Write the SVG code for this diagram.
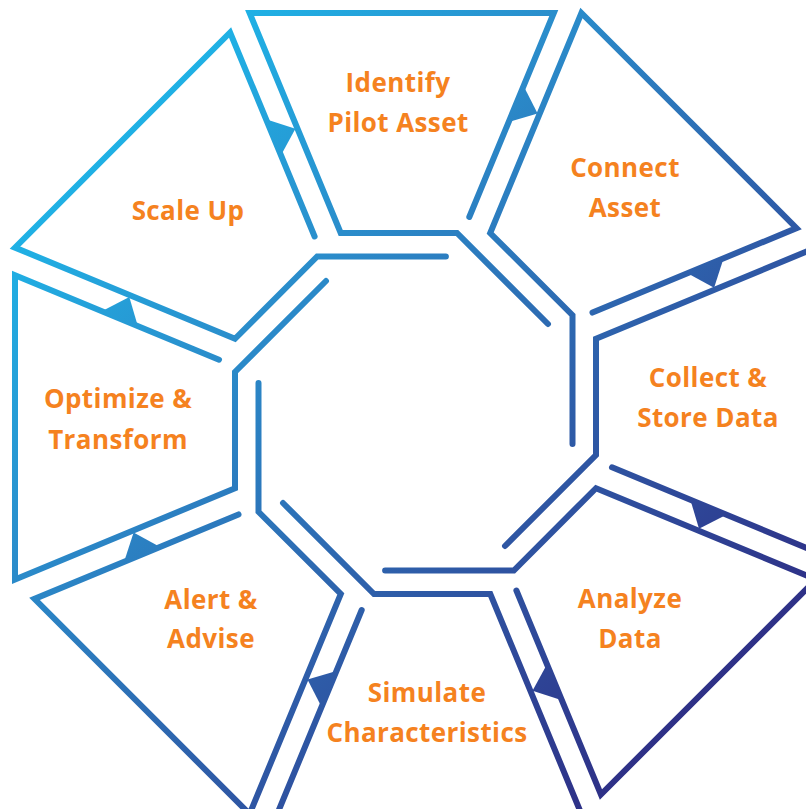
<svg xmlns="http://www.w3.org/2000/svg" width="806" height="809" viewBox="0 0 806 809">
  <defs>
    <!-- one diagonal blend shared by every outline and arrow tip -->
    <linearGradient id="ring" gradientUnits="userSpaceOnUse" x1="0" y1="0" x2="806" y2="809">
      <stop offset="0.12" stop-color="#1db8ea"/>
      <stop offset="0.35" stop-color="#2a8ecc"/>
      <stop offset="0.62" stop-color="#2e5ba7"/>
      <stop offset="0.88" stop-color="#2e2e85"/>
    </linearGradient>
  </defs>
  <style>
    .edge { fill: none; stroke: url(#ring); stroke-width: 6; stroke-linecap: round; stroke-linejoin: miter; }
    .tip { fill: url(#ring); stroke: none; }
    .label { font-family: "Open Sans", "Liberation Sans", sans-serif; font-weight: 700; font-size: 26px; fill: #f5821f; text-anchor: middle; letter-spacing: 0.4px; }
  </style>

  <rect width="806" height="809" fill="#ffffff"/>

  <!-- Each step: open outline running from the inner cap of its leading side,
       round the outer rim, down its trailing side and along the central octagon. -->
  <g id="identify">
    <polyline class="edge" points="469.3,217 553.8,13 249.6,13 340.7,233 457,233 548,324"/>
    <text class="label" x="398" y="92">Identify</text>
    <text class="label" x="398" y="132">Pilot Asset</text>
  </g>

  <g id="connect">
    <polyline class="edge" points="592.5,312.6 796.5,228.1 581.4,13 490.2,233 572.5,315.2 572.5,443.9"/>
    <text class="label" x="625" y="177">Connect</text>
    <text class="label" x="625" y="217">Asset</text>
  </g>

  <g id="collect">
    <polyline class="edge" points="612,467.3 816,551.8 816,247.6 596,338.7 596,455 505,546"/>
    <text class="label" x="708" y="387">Collect &amp;</text>
    <text class="label" x="708" y="427">Store Data</text>
  </g>

  <g id="analyze">
    <polyline class="edge" points="516.4,590.5 600.9,794.5 816,579.4 596,488.2 513.8,570.5 385.1,570.5"/>
    <text class="label" x="630" y="608">Analyze</text>
    <text class="label" x="630" y="648">Data</text>
  </g>

  <g id="simulate">
    <polyline class="edge" points="361.7,610 277.2,814 581.4,814 490.3,594 374,594 283,503"/>
    <text class="label" x="427" y="702">Simulate</text>
    <text class="label" x="427" y="742">Characteristics</text>
  </g>

  <g id="alert">
    <polyline class="edge" points="238.5,514.4 34.5,598.9 249.6,814 340.8,594 258.5,511.8 258.5,383.1"/>
    <text class="label" x="211" y="609">Alert &amp;</text>
    <text class="label" x="211" y="648">Advise</text>
  </g>

  <g id="optimize">
    <polyline class="edge" points="219,359.7 15,275.2 15,579.4 235,488.3 235,372 326,281"/>
    <text class="label" x="118" y="408">Optimize &amp;</text>
    <text class="label" x="118" y="449">Transform</text>
  </g>

  <g id="scale-up">
    <polyline class="edge" points="314.6,236.5 230.1,32.5 15,247.6 235,338.8 317.2,256.5 445.9,256.5"/>
    <text class="label" x="188" y="220">Scale Up</text>
  </g>

  <!-- flow tips bridging each gap, pointing clockwise to the next step -->
  <g id="connectors">
    <polygon class="tip" points="523.6,85.9 508.7,122 537.6,113.4"/>
    <polygon class="tip" points="723.6,258.3 687.5,273.2 714.1,287.7"/>
    <polygon class="tip" points="726.4,514.7 690.4,499.8 699,528.8"/>
    <polygon class="tip" points="561.9,700.3 547,664.3 532.5,690.8"/>
    <polygon class="tip" points="321.6,706.9 336.5,670.9 307.5,679.4"/>
    <polygon class="tip" points="124.1,561.8 160.1,546.9 133.6,532.5"/>
    <polygon class="tip" points="101.8,311.2 137.8,326.1 129.3,297.1"/>
    <polygon class="tip" points="266,119.3 281,155.3 295.4,128.8"/>
  </g>
</svg>
